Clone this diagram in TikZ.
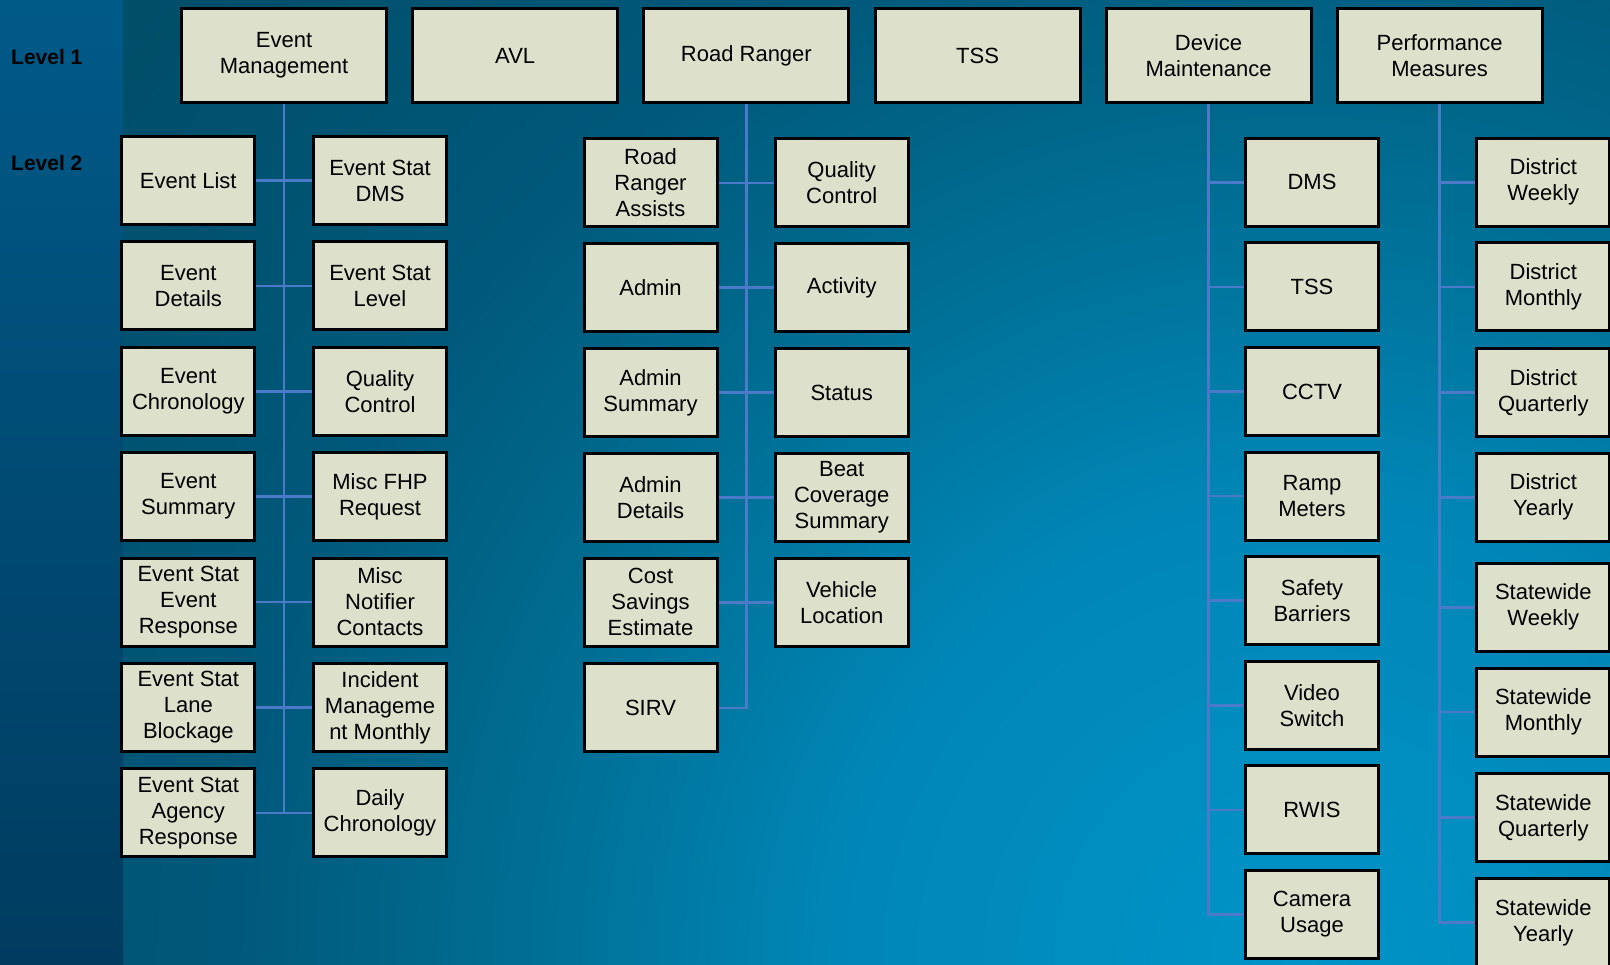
\documentclass[tikz,border=0pt]{standalone}
\usepackage{fontspec}
\setmainfont{Liberation Sans}
\definecolor{boxfill}{HTML}{DDE0CB}
\definecolor{linkblue}{HTML}{4A7AC8}
\definecolor{striptop}{HTML}{005A88}
\definecolor{stripbot}{HTML}{003C60}
\definecolor{glowa}{HTML}{0094C8}
\definecolor{glowb}{HTML}{0086B6}
\definecolor{glowc}{HTML}{006A8E}
\definecolor{glowd}{HTML}{00587A}
\definecolor{glowe}{HTML}{004E68}
\pgfdeclareradialshading{bgglow}{\pgfpointorigin}{color(0bp)=(glowa); color(7.8bp)=(glowb); color(13.8bp)=(glowc); color(18bp)=(glowd); color(25bp)=(glowe); color(50bp)=(glowe)}
\tikzset{
  lvlone/.style={draw=black, line width=3pt, fill=boxfill, text=black,
    minimum width=205pt, minimum height=94pt, inner sep=2pt, align=center,
    font=\fontsize{22}{26}\selectfont},
  lvltwo/.style={lvlone, minimum width=133pt, minimum height=88pt},
  link/.style={draw=linkblue, line width=2.5pt},
  lvllabel/.style={anchor=west, inner sep=0pt, text=black,
    font=\fontsize{21}{25}\selectfont\bfseries}
}
\begin{document}
\begin{tikzpicture}[x=1pt,y=-1pt]
  \useasboundingbox (0,0) rectangle (1610,965);
  \clip (0,0) rectangle (1610,965);
  % background
  \begin{scope}
    \clip (123,0) rectangle (1610,965);
    \shade[shading=bgglow] (-200,-535) rectangle (2800,2465);
  \end{scope}
  \shade[top color=striptop, bottom color=stripbot] (0,0) rectangle (123,965);

  \node[lvllabel] (lv1) at (11,56.7) {Level 1};
  \node[lvllabel] (lv2) at (11,163.3) {Level 2};

  % level 1
  \node[lvlone] (em) at (284,55.5) {Event\\Management};
  \node[lvlone] (avl) at (515.2,55.5) {AVL};
  \node[lvlone] (rr) at (746.4,55.5) {Road Ranger};
  \node[lvlone] (tss) at (977.6,55.5) {TSS};
  \node[lvlone] (dmt) at (1208.6,55.5) {Device\\Maintenance};
  \node[lvlone] (pm) at (1439.6,55.5) {Performance\\Measures};

  % event management
  \node[lvltwo] (el) at (188.3,180.5) {Event List};
  \node[lvltwo] (ed) at (188.3,285.9) {Event\\Details};
  \node[lvltwo] (ec) at (188.3,391.3) {Event\\Chronology};
  \node[lvltwo] (es) at (188.3,496.7) {Event\\Summary};
  \node[lvltwo] (ser) at (188.3,602.1) {Event Stat\\Event\\Response};
  \node[lvltwo] (slb) at (188.3,707.5) {Event Stat\\Lane\\Blockage};
  \node[lvltwo] (sar) at (188.3,812.9) {Event Stat\\Agency\\Response};
  \node[lvltwo] (sdms) at (380,180.5) {Event Stat\\DMS};
  \node[lvltwo] (slvl) at (380,285.9) {Event Stat\\Level};
  \node[lvltwo] (eqc) at (380,391.3) {Quality\\Control};
  \node[lvltwo] (mfr) at (380,496.7) {Misc FHP\\Request};
  \node[lvltwo] (mnc) at (380,602.1) {Misc\\Notifier\\Contacts};
  \node[lvltwo] (imm) at (380,707.5) {Incident\\Manageme\\nt Monthly};
  \node[lvltwo] (dc) at (380,812.9) {Daily\\Chronology};

  % road ranger
  \node[lvltwo] (rra) at (650.5,182.8) {Road\\Ranger\\Assists};
  \node[lvltwo] (adm) at (650.5,287.6) {Admin};
  \node[lvltwo] (ads) at (650.5,392.7) {Admin\\Summary};
  \node[lvltwo] (add) at (650.5,497.5) {Admin\\Details};
  \node[lvltwo] (cse) at (650.5,602.3) {Cost\\Savings\\Estimate};
  \node[lvltwo] (sirv) at (650.5,707.8) {SIRV};
  \node[lvltwo] (rqc) at (841.7,182.8) {Quality\\Control};
  \node[lvltwo] (act) at (841.7,287.6) {Activity};
  \node[lvltwo] (sta) at (841.7,392.7) {Status};
  \node[lvltwo] (bcs) at (841.7,497.5) {Beat\\Coverage\\Summary};
  \node[lvltwo] (vl) at (841.7,602.3) {Vehicle\\Location};

  % device maintenance
  \node[lvltwo] (dms) at (1312,182.3) {DMS};
  \node[lvltwo] (dtss) at (1312,286.9) {TSS};
  \node[lvltwo] (cctv) at (1312,391.5) {CCTV};
  \node[lvltwo] (rm) at (1312,496.1) {Ramp\\Meters};
  \node[lvltwo] (sb) at (1312,600.7) {Safety\\Barriers};
  \node[lvltwo] (vs) at (1312,705.3) {Video\\Switch};
  \node[lvltwo] (rwis) at (1312,809.9) {RWIS};
  \node[lvltwo] (cu) at (1312,914.5) {Camera\\Usage};

  % performance measures
  \node[lvltwo] (dw) at (1543.3,182.3) {District\\Weekly};
  \node[lvltwo] (dmo) at (1543.3,286.9) {District\\Monthly};
  \node[lvltwo] (dq) at (1543.3,392.5) {District\\Quarterly};
  \node[lvltwo] (dy) at (1543.3,497.3) {District\\Yearly};
  \node[lvltwo] (sw) at (1543.3,607.3) {Statewide\\Weekly};
  \node[lvltwo] (smo) at (1543.3,712) {Statewide\\Monthly};
  \node[lvltwo] (sq) at (1543.3,817.5) {Statewide\\Quarterly};
  \node[lvltwo] (sy) at (1543.3,922.5) {Statewide\\Yearly};

  \begin{scope}[link]
    \draw (em.south) -- (em.south |- sar.east);
    \draw (el.east) -- (sdms.west);
    \draw (ed.east) -- (slvl.west);
    \draw (ec.east) -- (eqc.west);
    \draw (es.east) -- (mfr.west);
    \draw (ser.east) -- (mnc.west);
    \draw (slb.east) -- (imm.west);
    \draw (sar.east) -- (dc.west);

    \draw (rr.south) |- (sirv.east);
    \draw (rra.east) -- (rqc.west);
    \draw (adm.east) -- (act.west);
    \draw (ads.east) -- (sta.west);
    \draw (add.east) -- (bcs.west);
    \draw (cse.east) -- (vl.west);

    \draw (dmt.south) |- (dms.west);
    \draw (dmt.south) |- (dtss.west);
    \draw (dmt.south) |- (cctv.west);
    \draw (dmt.south) |- (rm.west);
    \draw (dmt.south) |- (sb.west);
    \draw (dmt.south) |- (vs.west);
    \draw (dmt.south) |- (rwis.west);
    \draw (dmt.south) |- (cu.west);

    \draw (pm.south) |- (dw.west);
    \draw (pm.south) |- (dmo.west);
    \draw (pm.south) |- (dq.west);
    \draw (pm.south) |- (dy.west);
    \draw (pm.south) |- (sw.west);
    \draw (pm.south) |- (smo.west);
    \draw (pm.south) |- (sq.west);
    \draw (pm.south) |- (sy.west);
  \end{scope}
\end{tikzpicture}
\end{document}
